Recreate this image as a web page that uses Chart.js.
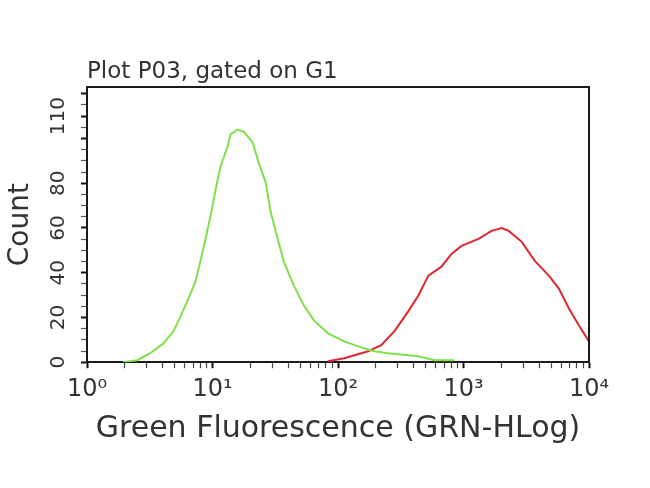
<!DOCTYPE html>
<html><head><meta charset="utf-8">
<script src="https://cdn.jsdelivr.net/npm/chart.js@4/dist/chart.umd.min.js"></script>
<style>html,body{margin:0;padding:0;background:#fff}#wrap{width:650px;height:488px}</style>
</head><body><div id="wrap"><canvas id="c" width="650" height="488"></canvas></div>
<script>
// Green histogram (fluorescence value, count)
const greenX = [1.94, 2.51, 3.19, 4.06, 4.88, 5.55, 6.43, 7.31, 8.02, 8.79, 9.64, 10.6, 11.6, 13.2, 13.9, 15.8, 17.7, 20.9, 23.3, 26.5, 29.1, 33.1, 37.0, 44.5, 53.5, 64.3, 83.2, 112, 161, 194, 251, 437, 586, 847];
const greenCount = [0, 0.9, 4, 8.4, 13.8, 20.4, 28.4, 36, 45.3, 55.1, 65.3, 77.3, 87.6, 96.4, 101.8, 104, 103.1, 98.2, 89.3, 80.4, 67.1, 55.1, 44.9, 34.2, 25.3, 18.7, 12.9, 9.3, 6.2, 4.9, 4, 2.7, 0.9, 0.9];
// Red histogram
const redX = [83.2, 112, 174, 221, 281, 363, 437, 525, 667, 802, 964, 1318, 1675, 2014, 2291, 2911, 3698, 4786, 5754, 6918, 8318, 10000];
const redCount = [0.4, 1.8, 4.9, 7.6, 13.8, 22.7, 29.8, 38.7, 42.7, 48.4, 52, 55.1, 58.7, 60, 58.7, 53.8, 45.3, 38.7, 32.9, 24, 16.4, 9.3];
// Tick labels
const xTickValues = [1, 10, 100, 1000, 10000];
const xTickLabels = ['10⁰', '10¹', '10²', '10³', '10⁴'];
const yTickValues = [0, 20, 40, 60, 80, 110];
const yTickLabels = ['0', '20', '40', '60', '80', '110'];

const FONT = 'DejaVu Sans';
const TXT = '#333333';

const framePlugin = {
  id: 'frame',
  afterDraw(chart) {
    const {ctx, chartArea: a} = chart;
    ctx.save();
    ctx.strokeStyle = '#1a1a1a';
    ctx.lineWidth = 2;
    ctx.beginPath();
    ctx.moveTo(a.left, a.top); ctx.lineTo(a.right, a.top); ctx.lineTo(a.right, a.bottom);
    ctx.stroke();
    ctx.restore();
  }
};

const isMajorX = (v) => xTickValues.indexOf(v) >= 0;
const isMajorY = (v) => yTickValues.indexOf(v) >= 0 || v % 20 === 0;

new Chart(document.getElementById('c'), {
  type: 'line',
  data: {
    datasets: [
      {label: 'Green', data: greenX.map((x, i) => ({x, y: greenCount[i]})), borderColor: '#80e04a', borderWidth: 2, pointRadius: 0, tension: 0, fill: false},
      {label: 'Red', data: redX.map((x, i) => ({x, y: redCount[i]})), borderColor: '#e0262e', borderWidth: 2, pointRadius: 0, tension: 0, fill: false}
    ]
  },
  options: {
    responsive: false, animation: false, devicePixelRatio: 1,
    layout: {padding: {left: 4, right: 61, top: 0, bottom: 41}},
    plugins: {
      legend: {display: false}, tooltip: {enabled: false},
      title: {display: true, text: 'Plot P03, gated on G1', align: 'start', fullSize: false, color: TXT,
        font: {family: FONT, size: 23, weight: 'normal'}, padding: {top: 58, bottom: 1.4}}
    },
    scales: {
      x: {
        type: 'logarithmic', min: 1, max: 10000, position: 'bottom',
        afterBuildTicks(s) {
          const t = [];
          for (let d = 0; d < xTickValues.length - 1; d++) {
            for (let m = 1; m <= 9; m++) t.push({value: m * xTickValues[d]});
          }
          t.push({value: xTickValues[xTickValues.length - 1]});
          s.ticks = t;
        },
        ticks: {autoSkip: false, maxRotation: 0, minRotation: 0, padding: 7, color: TXT,
          font: {family: FONT, size: 24},
          callback(v) { const i = xTickValues.indexOf(v); return i >= 0 ? xTickLabels[i] : ''; }},
        grid: {drawOnChartArea: false, drawTicks: true, tickLength: 6,
          tickColor: (c) => (c.tick && isMajorX(c.tick.value)) ? '#111' : '#444',
          tickWidth: (c) => (c.tick && isMajorX(c.tick.value)) ? 2 : 1.2},
        border: {display: true, color: '#1a1a1a', width: 2},
        title: {display: true, text: 'Green Fluorescence (GRN-HLog)', color: TXT,
          font: {family: FONT, size: 30}, padding: {top: 0, bottom: 0}}
      },
      y: {
        min: 0, max: 123, position: 'left',
        afterBuildTicks(s) {
          const t = [];
          for (let v = 0; v <= 120; v += 5) t.push({value: v});
          s.ticks = t;
        },
        ticks: {autoSkip: false, minRotation: 90, maxRotation: 90, crossAlign: 'center', padding: 3, color: TXT,
          font: {family: FONT, size: 20},
          callback(v) { const i = yTickValues.indexOf(v); return i >= 0 ? yTickLabels[i] : ''; }},
        grid: {drawOnChartArea: false, drawTicks: true, tickLength: 6,
          tickColor: (c) => (c.tick && isMajorY(c.tick.value)) ? '#111' : '#555',
          tickWidth: (c) => (c.tick && isMajorY(c.tick.value)) ? 2 : 1.2},
        border: {display: true, color: '#1a1a1a', width: 2},
        title: {display: true, text: 'Count', color: TXT, font: {family: FONT, size: 28}, padding: {top: 0, bottom: 13.4}}
      }
    }
  },
  plugins: [framePlugin]
});
</script></body></html>
